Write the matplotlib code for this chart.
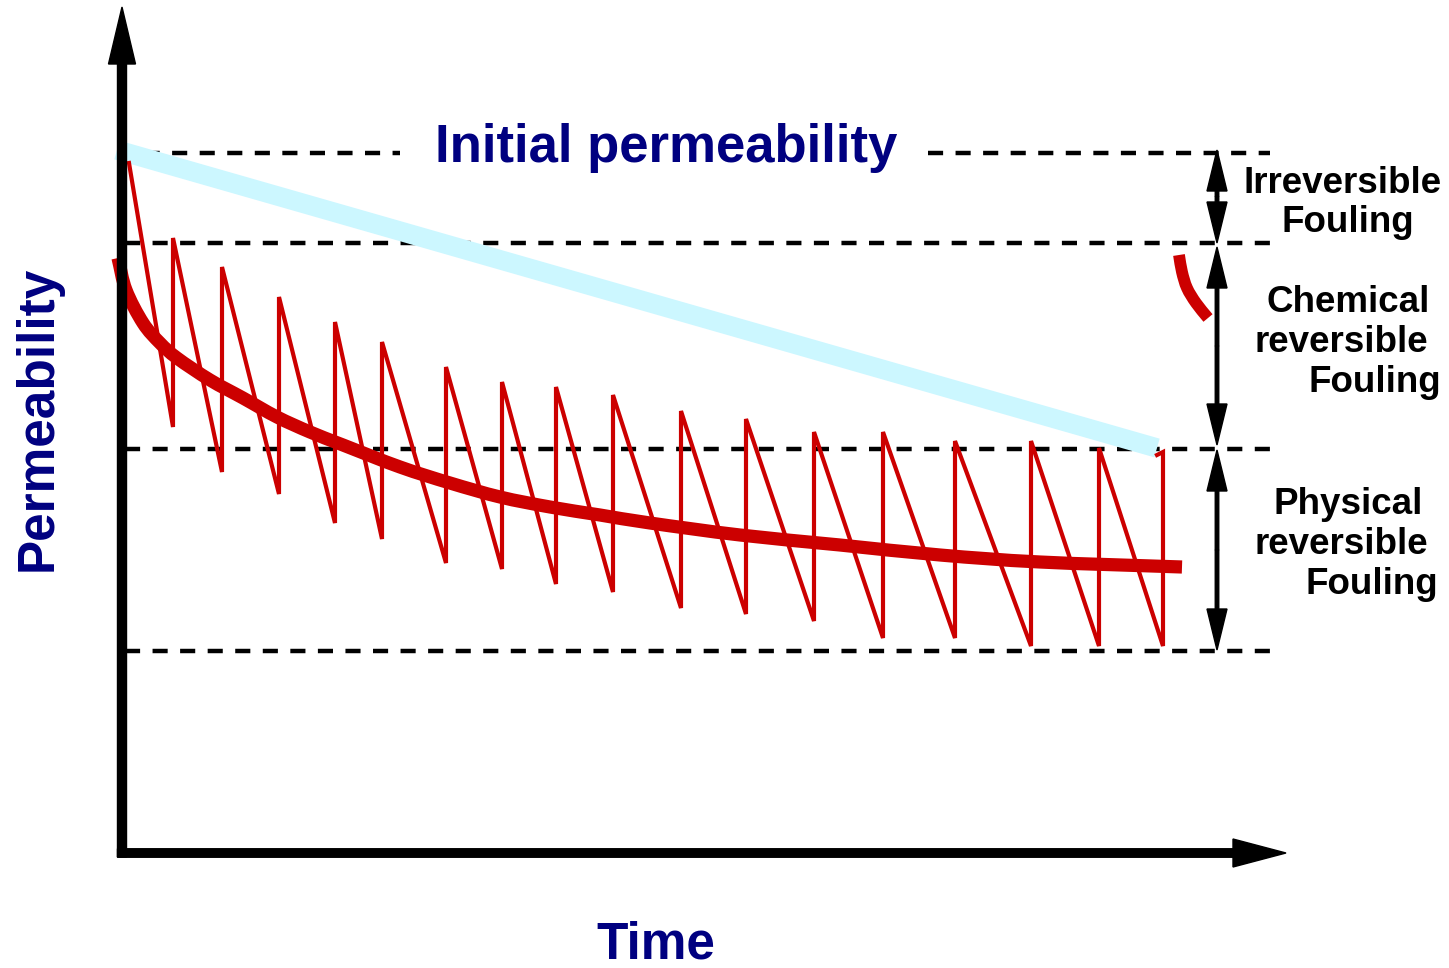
import numpy as np
import matplotlib.pyplot as plt
from matplotlib.path import Path
from matplotlib.patches import PathPatch

# sawtooth (membrane permeability between physical cleanings)
saw_t = [0.7, 5.1, 5.1, 10.0, 10.0, 15.7, 15.7, 21.3, 21.3, 26.0, 26.0, 32.4, 32.4,
         38.0, 38.0, 43.4, 43.4, 49.1, 49.1, 55.9, 55.9, 62.4, 62.4, 69.2, 69.2,
         76.1, 76.1, 83.3, 83.3, 90.9, 90.9, 97.7, 97.7, 104.1, 104.1, 103.5]
saw_p = [69.0, 42.6, 61.5, 38.1, 58.6, 35.9, 55.6, 33.0, 53.1, 31.4, 51.1, 29.0, 48.6,
         28.4, 47.1, 26.9, 46.6, 26.1, 45.8, 24.5, 44.2, 23.9, 43.4, 23.2, 42.1,
         21.5, 42.1, 21.5, 41.2, 20.7, 41.2, 20.7, 40.5, 20.7, 40.1, 39.8]

# averaged trend
trend_t = [-0.4, 0.4, 2.1, 3.8, 5.5, 8.8, 12.1, 15.5, 18.8, 22.1, 27.8, 32.8,
           37.8, 42.8, 47.8, 52.8, 61.8, 71.8, 81.8, 91.8, 106.0]
trend_p = [59.5, 56.3, 53.0, 51.0, 49.5, 47.3, 45.5, 43.6, 42.1, 40.8, 38.6, 37.0,
           35.6, 34.6, 33.8, 33.0, 31.8, 30.8, 29.8, 29.1, 28.6]

# small recovery arc after chemical cleaning
arc_t = [105.7, 106.0, 106.5, 107.4, 108.6]
arc_p = [59.8, 58.1, 56.5, 55.0, 53.5]

# irreversible decline band
band_t = [-0.5, 103.5]
band_p = [70.3, 40.5]

# reference levels
levels = [70.0, 61.0, 40.4, 20.2]

red = '#cc0000'
navy = '#000080'
plt.rcParams['font.family'] = ['Liberation Sans', 'DejaVu Sans']


def smooth_path(xs, ys):
    # Catmull-Rom through the points, as cubic Bezier segments
    p = np.column_stack([xs, ys])
    ext = np.vstack([2 * p[0] - p[1], p, 2 * p[-1] - p[-2]])
    verts = [p[0]]
    codes = [Path.MOVETO]
    for i in range(1, len(ext) - 2):
        c1 = ext[i] + (ext[i + 1] - ext[i - 1]) / 6
        c2 = ext[i + 1] - (ext[i + 2] - ext[i]) / 6
        verts += [c1, c2, ext[i + 1]]
        codes += [Path.CURVE4] * 3
    return Path(verts, codes)


fig = plt.figure(figsize=(14.49, 9.68), dpi=100)
ax = fig.add_axes([0, 0, 1, 1])
ax.set_xlim(-12.2, 132.7)
ax.set_ylim(-11.5, 85.3)
ax.axis('off')

dash = dict(color='k', lw=3.2, linestyle=(0, (3.4, 2.8)))
ax.plot([-0.5, 27.8], [levels[0]] * 2, **dash)
ax.plot([80.6, 114.8], [levels[0]] * 2, **dash)
for lv in levels[1:]:
    ax.plot([0.3, 114.8], [lv, lv], **dash)

ax.plot(band_t, band_p, color='#ccf7ff', lw=14, solid_capstyle='butt', zorder=2)
ax.plot(saw_t, saw_p, color=red, lw=3, solid_joinstyle='miter', zorder=3)
ax.add_patch(PathPatch(smooth_path(trend_t, trend_p), fill=False, edgecolor=red,
                       lw=9.5, capstyle='butt', zorder=4))
ax.add_patch(PathPatch(smooth_path(arc_t, arc_p), fill=False, edgecolor=red,
                       lw=8.5, capstyle='butt', zorder=4))

# axes arrows
ax.arrow(0, -0.4, 0, 85.0, width=0.9, head_width=2.7, head_length=5.7,
         length_includes_head=True, color='k', zorder=5)
ax.arrow(-0.45, 0, 116.85, 0, width=0.85, head_width=2.8, head_length=5.3,
         length_includes_head=True, color='k', zorder=5)

# double arrows on the right
xa = 109.5
for lo, hi in [(61.0, 70.3), (40.8, 60.6), (20.3, 40.3)]:
    mid = (lo + hi) / 2
    for end in (lo, hi):
        ax.arrow(xa, mid, 0, end - mid, width=0.35, head_width=2.0, head_length=4.1,
                 length_includes_head=True, color='k', zorder=5)


def ftext(x, y, s, **kw):
    fig.text(x / 1449, 1 - y / 968, s, fontweight='bold', ha='center', va='center', **kw)


ftext(666, 148, 'Initial permeability', color=navy, fontsize=38)
ftext(656, 945, 'Time', color=navy, fontsize=37)
ftext(38, 418, 'Permeability', color=navy, fontsize=37, rotation=90)

fs = 26.5
ftext(1343, 183, 'Irreversible', fontsize=fs)
ftext(1348, 222, 'Fouling', fontsize=fs)
ftext(1348, 302, 'Chemical', fontsize=fs)
ftext(1341, 342, 'reversible', fontsize=fs)
ftext(1375, 382, 'Fouling', fontsize=fs)
ftext(1348, 505, 'Physical', fontsize=fs)
ftext(1341, 545, 'reversible', fontsize=fs)
ftext(1372, 585, 'Fouling', fontsize=fs)

fig.savefig('out.png', dpi=100)
